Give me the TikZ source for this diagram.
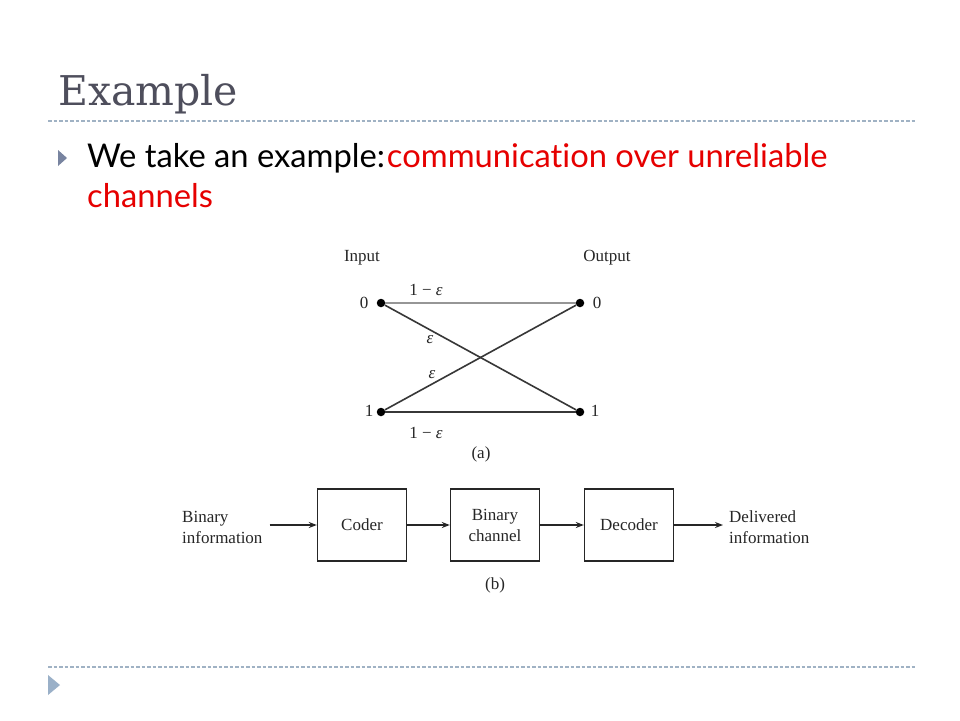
\documentclass[tikz,border=0pt]{standalone}
\usepackage{fontspec}
\setmainfont{Liberation Serif}
\newfontfamily\titlefont{DejaVu Serif}
\newfontfamily\bodyfont[Ligatures=NoCommon]{Lato}
\usetikzlibrary{arrows.meta}
\definecolor{titlegray}{RGB}{78,78,92}
\definecolor{rulecol}{RGB}{160,178,196}
\definecolor{bulletcol}{RGB}{120,132,160}
\definecolor{footcol}{RGB}{154,176,200}
\definecolor{redtext}{RGB}{230,0,0}
\definecolor{lightline}{RGB}{150,150,150}
\definecolor{darkline}{RGB}{55,55,55}
\tikzset{
  rulestyle/.style={rulecol, line width=1.1pt, dash pattern=on 3.5pt off 2pt},
  lbl/.style={font=\fontsize{17}{21}\selectfont, inner sep=1pt, text=black!85},
  dotnode/.style={circle, fill=black, inner sep=0pt, minimum size=8.5pt},
  chanline/.style={line width=1.6pt, darkline},
  blockbox/.style={draw=black!85, line width=1.4pt, minimum width=89pt, minimum height=72pt, align=center, font=\fontsize{17}{21}\selectfont, text=black!85},
  arr/.style={line width=1.4pt, black!85, -{Stealth[length=8pt,width=6pt]}},
}
\begin{document}
\begin{tikzpicture}[x=1pt,y=-1pt]
\path[fill=white] (0,0) rectangle (960,720);
\useasboundingbox (0,0) rectangle (960,720);

% title
\node[anchor=base west, inner sep=0pt, font=\titlefont\fontsize{41}{48}\selectfont, text=titlegray] (title) at (58,105) {Example};
\draw[rulestyle] (48,121) coordinate (r1a) -- (915,121) coordinate (r1b);

% bullet
\fill[bulletcol] (58,150) -- (67,158) -- (58,166) -- cycle;
\node[anchor=base west, inner sep=0pt, font=\bodyfont\fontsize{32.7}{40}\selectfont] (l1) at (87,167) {We take an example:\hspace{2pt}\textcolor{redtext}{communication over unreliable}};
\node[anchor=base west, inner sep=0pt, font=\bodyfont\fontsize{32.7}{40}\selectfont, text=redtext] (l2) at (87,207) {channels};

% (a) binary symmetric channel
\node[lbl] (inlab) at (362,258) {Input};
\node[lbl] (outlab) at (607,258) {Output};
\node[dotnode] (i0) at (381,303) {};
\node[dotnode] (i1) at (381,412) {};
\node[dotnode] (o0) at (580,303) {};
\node[dotnode] (o1) at (580,412) {};
\node[lbl] (i0l) at (364,303) {0};
\node[lbl] (i1l) at (369,411) {1};
\node[lbl] (o0l) at (597,303) {0};
\node[lbl] (o1l) at (595,411) {1};
\draw[line width=1.6pt, lightline] (i0) -- (o0);
\draw[chanline] (i0) -- (o1);
\draw[chanline] (i1) -- (o0);
\draw[chanline] (i1) -- (o1);
\node[lbl] (p00) at (426,290) {1 − \textit{ε}};
\node[lbl] (p01) at (430,340) {\textit{ε}};
\node[lbl] (p10) at (432,375) {\textit{ε}};
\node[lbl] (p11) at (426,433) {1 − \textit{ε}};
\node[lbl] (capa) at (481,454) {(a)};

% (b) block diagram
\node[lbl, anchor=west, align=left] (bin) at (181,527) {Binary\\information};
\node[blockbox] (coder) at (362,525) {Coder};
\node[blockbox] (chan) at (495,525) {Binary\\channel};
\node[blockbox] (dec) at (629,525) {Decoder};
\node[lbl, anchor=west, align=left] (deliv) at (728,527) {Delivered\\information};
\draw[arr] ([xshift=6pt]bin.east |- coder.west) -- (coder.west);
\draw[arr] (coder) -- (chan);
\draw[arr] (chan) -- (dec);
\draw[arr] (dec.east) -- ([xshift=-5pt]deliv.west |- dec.east);
\node[lbl] (capb) at (495,585) {(b)};

% footer
\draw[rulestyle] (48,667) coordinate (r2a) -- (915,667) coordinate (r2b);
\fill[footcol] (48,675) -- (60,685) -- (48,695) -- cycle;
\end{tikzpicture}
\end{document}
